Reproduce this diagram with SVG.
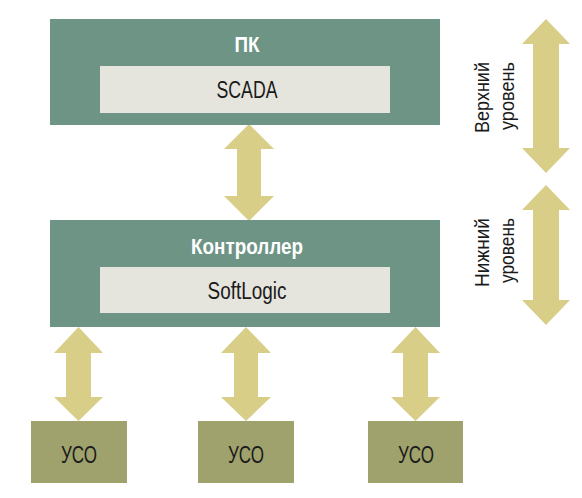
<svg xmlns="http://www.w3.org/2000/svg" width="582" height="498" viewBox="0 0 582 498">
<defs>
<style>
.outer{fill:#6d9484}
.inner{fill:#e5e4dd}
.uso{fill:#9fa26c}
.arr{fill:#d8ce88}
.t{font-family:"Liberation Sans","Arial",sans-serif;font-size:23px;fill:#1a1a1a;text-anchor:middle}
.h{font-family:"Liberation Sans","Arial",sans-serif;font-size:22px;font-weight:bold;fill:#ffffff;text-anchor:middle}
.s{font-family:"Liberation Sans","Arial",sans-serif;font-size:21px;fill:#1a1a1a;text-anchor:middle}
</style>
</defs>
<rect width="582" height="498" fill="#ffffff"/>
<g id="connectors">
<polygon class="arr" points="249,124 274,149 261,149 261,196 274,196 249,221 224,196 237,196 237,149 224,149"/>
<polygon class="arr" points="78.5,327 103,353 91,353 91,397 103,397 78.5,421 54,397 66,397 66,353 54,353"/>
<polygon class="arr" points="246,327 271,353 258,353 258,397 271,397 246,421 221,397 234,397 234,353 221,353"/>
<polygon class="arr" points="415.5,327 440,353 428,353 428,397 440,397 415.5,421 391,397 403,397 403,353 391,353"/>
</g>
<g id="pk">
<rect class="outer" x="50" y="19" width="390" height="106"/>
<text class="h" x="247" y="52" textLength="25" lengthAdjust="spacingAndGlyphs">ПК</text>
</g>
<g id="scada">
<rect class="inner" x="100" y="66" width="290" height="47"/>
<text class="t" x="247" y="98" textLength="61" lengthAdjust="spacingAndGlyphs">SCADA</text>
</g>
<g id="controller">
<rect class="outer" x="50" y="220" width="390" height="107"/>
<text class="h" x="247" y="254" textLength="112" lengthAdjust="spacingAndGlyphs">Контроллер</text>
</g>
<g id="softlogic">
<rect class="inner" x="100" y="267" width="290" height="46"/>
<text class="t" x="247" y="299" textLength="79" lengthAdjust="spacingAndGlyphs">SoftLogic</text>
</g>
<g id="uso1">
<rect class="uso" x="31" y="421" width="96" height="62"/>
<text class="t" x="79" y="463" textLength="36" lengthAdjust="spacingAndGlyphs">УСО</text>
</g>
<g id="uso2">
<rect class="uso" x="198" y="421" width="96" height="62"/>
<text class="t" x="246" y="463" textLength="36" lengthAdjust="spacingAndGlyphs">УСО</text>
</g>
<g id="uso3">
<rect class="uso" x="368" y="421" width="95" height="62"/>
<text class="t" x="416" y="463" textLength="36" lengthAdjust="spacingAndGlyphs">УСО</text>
</g>
<g id="upper-level">
<polygon class="arr" points="546,19 570,44 559,44 559,148 570,148 546,173 522,148 533,148 533,44 522,44"/>
<text class="s" transform="translate(489,97.5) rotate(-90)" x="0" y="0" textLength="71" lengthAdjust="spacingAndGlyphs">Верхний</text>
<text class="s" transform="translate(514,96) rotate(-90)" x="0" y="0" textLength="68" lengthAdjust="spacingAndGlyphs">уровень</text>
</g>
<g id="lower-level">
<polygon class="arr" points="546,185 570,210 559,210 559,300 570,300 546,325 522,300 533,300 533,210 522,210"/>
<text class="s" transform="translate(489,252.5) rotate(-90)" x="0" y="0" textLength="69" lengthAdjust="spacingAndGlyphs">Нижний</text>
<text class="s" transform="translate(514,250.5) rotate(-90)" x="0" y="0" textLength="65" lengthAdjust="spacingAndGlyphs">уровень</text>
</g>
</svg>
